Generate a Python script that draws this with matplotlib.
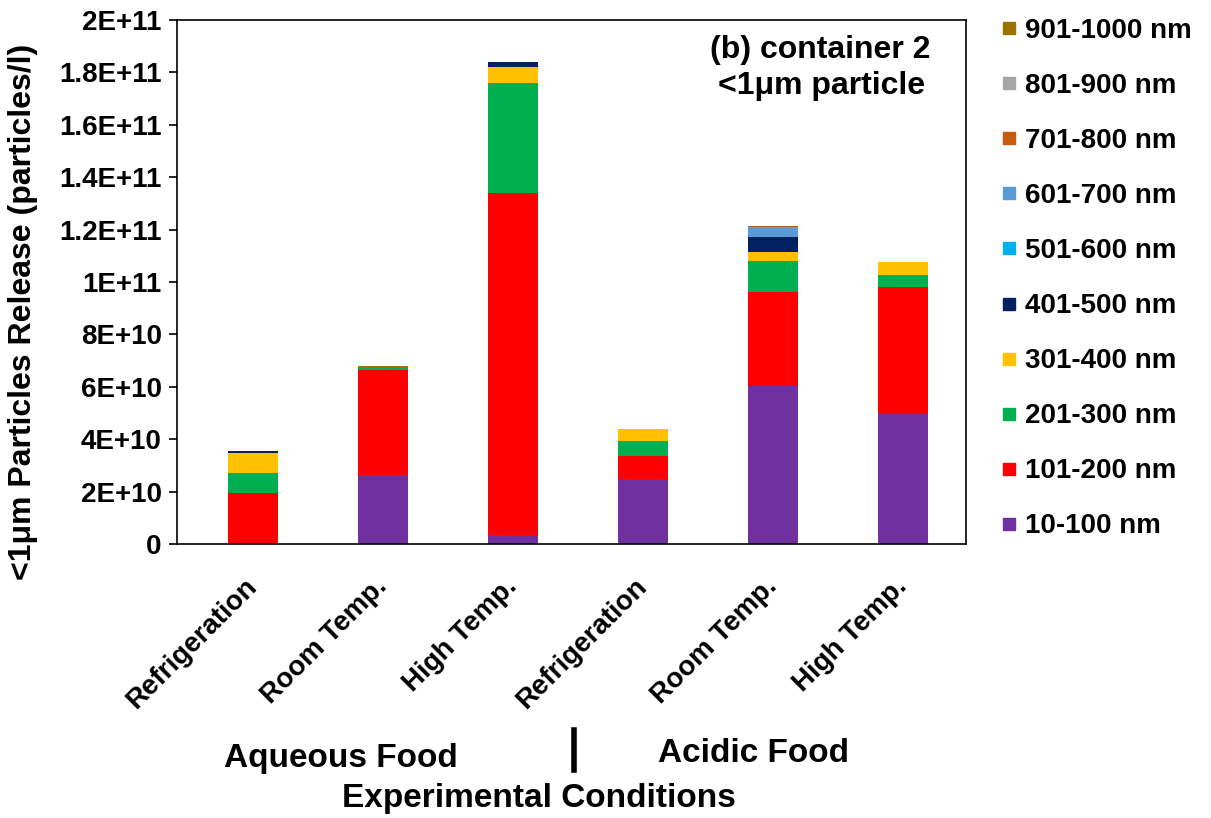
import matplotlib.pyplot as plt
import numpy as np
from matplotlib.lines import Line2D
from matplotlib.transforms import ScaledTranslation

plt.rcParams['font.family'] = ['Liberation Sans', 'DejaVu Sans']
plt.rcParams['font.weight'] = 'bold'

conditions = ['Refrigeration', 'Room Temp.', 'High Temp.',
              'Refrigeration', 'Room Temp.', 'High Temp.']

# particle counts per size class (particles/l), one value per condition
size_classes = ['10-100 nm', '101-200 nm', '201-300 nm', '301-400 nm', '401-500 nm',
                '501-600 nm', '601-700 nm', '701-800 nm', '801-900 nm', '901-1000 nm']
nm_10_100 = [0.0, 2.63e10, 0.35e10, 2.48e10, 6.03e10, 5.00e10]
nm_101_200 = [1.95e10, 4.00e10, 13.05e10, 0.88e10, 3.59e10, 4.81e10]
nm_201_300 = [0.76e10, 0.12e10, 4.20e10, 0.57e10, 1.18e10, 0.46e10]
nm_301_400 = [0.76e10, 0.0, 0.60e10, 0.46e10, 0.34e10, 0.50e10]
nm_401_500 = [0.08e10, 0.0, 0.20e10, 0.0, 0.57e10, 0.0]
nm_501_600 = [0.0, 0.0, 0.0, 0.0, 0.0, 0.0]
nm_601_700 = [0.0, 0.0, 0.0, 0.0, 0.38e10, 0.0]
nm_701_800 = [0.0, 0.0, 0.0, 0.0, 0.05e10, 0.0]
nm_801_900 = [0.0, 0.0, 0.0, 0.0, 0.0, 0.0]
nm_901_1000 = [0.0, 0.06e10, 0.0, 0.0, 0.0, 0.0]

series = [nm_10_100, nm_101_200, nm_201_300, nm_301_400, nm_401_500,
          nm_501_600, nm_601_700, nm_701_800, nm_801_900, nm_901_1000]
colors = ['#7030A0', '#FF0000', '#00B050', '#FFC000', '#002060',
          '#00B0F0', '#5B9BD5', '#C55A11', '#A5A5A5', '#997300']

W, H = 1211, 818
fig = plt.figure(figsize=(W / 100, H / 100), dpi=100)
ax = fig.add_axes([177 / W, 1 - 544 / H, 789 / W, 524 / H])

x = np.arange(len(conditions))
bottom = np.zeros(len(conditions))
handles = []
for vals, col, lab in zip(series, colors, size_classes):
    ax.bar(x, vals, width=0.39, bottom=bottom, color=col, label=lab)
    bottom += np.array(vals)
    handles.append(Line2D([], [], marker='s', linestyle='none', markersize=9,
                          markerfacecolor=col, markeredgecolor=col, label=lab))

ax.set_xlim(-0.585, 5.485)
ax.set_ylim(0, 2e11)
yt = np.arange(0, 2.01e11, 2e10)
ax.set_yticks(yt)
ytl = ['0', '2E+10', '4E+10', '6E+10', '8E+10', '1E+11',
       '1.2E+11', '1.4E+11', '1.6E+11', '1.8E+11', '2E+11']
ax.set_yticklabels(ytl, fontsize=20, fontweight='bold')
ax.set_xticks(x)
ax.set_xticklabels(conditions, rotation=45, ha='right', rotation_mode='anchor',
                   fontsize=20, fontweight='bold')
ax.tick_params(axis='x', length=0, pad=21)
ax.tick_params(axis='y', length=6, width=1.2, direction='out', pad=5)
shift = ScaledTranslation(-0.09, 0, fig.dpi_scale_trans)
for lbl in ax.get_xticklabels():
    lbl.set_transform(lbl.get_transform() + shift)
for s in ax.spines.values():
    s.set_linewidth(1.2)

ax.set_ylabel('<1μm Particles Release (particles/l)', fontsize=23, fontweight='bold')
ax.yaxis.set_label_coords((38 - 177) / 789, (544 - 312) / 524)

fig.text(820 / W, 1 - 58 / H, '(b) container 2', ha='center', va='baseline',
         fontsize=23, fontweight='bold')
fig.text(822 / W, 1 - 94 / H, '<1μm particle', ha='center', va='baseline',
         fontsize=23, fontweight='bold')

fig.legend(handles=handles[::-1], loc='upper left', bbox_to_anchor=(990 / W, 1 - 7 / H),
           frameon=False, labelspacing=1.045, handletextpad=0.26, handlelength=0.6,
           borderaxespad=0, prop={'weight': 'bold', 'size': 20})

fig.text(341 / W, 1 - 767 / H, 'Aqueous Food', ha='center', va='baseline',
         fontsize=24, fontweight='bold')
fig.text(754 / W, 1 - 762 / H, 'Acidic Food', ha='center', va='baseline',
         fontsize=24, fontweight='bold')
fig.text(539 / W, 1 - 807 / H, 'Experimental Conditions', ha='center', va='baseline',
         fontsize=24, fontweight='bold')
fig.add_artist(Line2D([574 / W, 574 / W], [1 - 730 / H, 1 - 770 / H],
                      color='black', linewidth=4, transform=fig.transFigure))

fig.savefig('out.png', dpi=100)
